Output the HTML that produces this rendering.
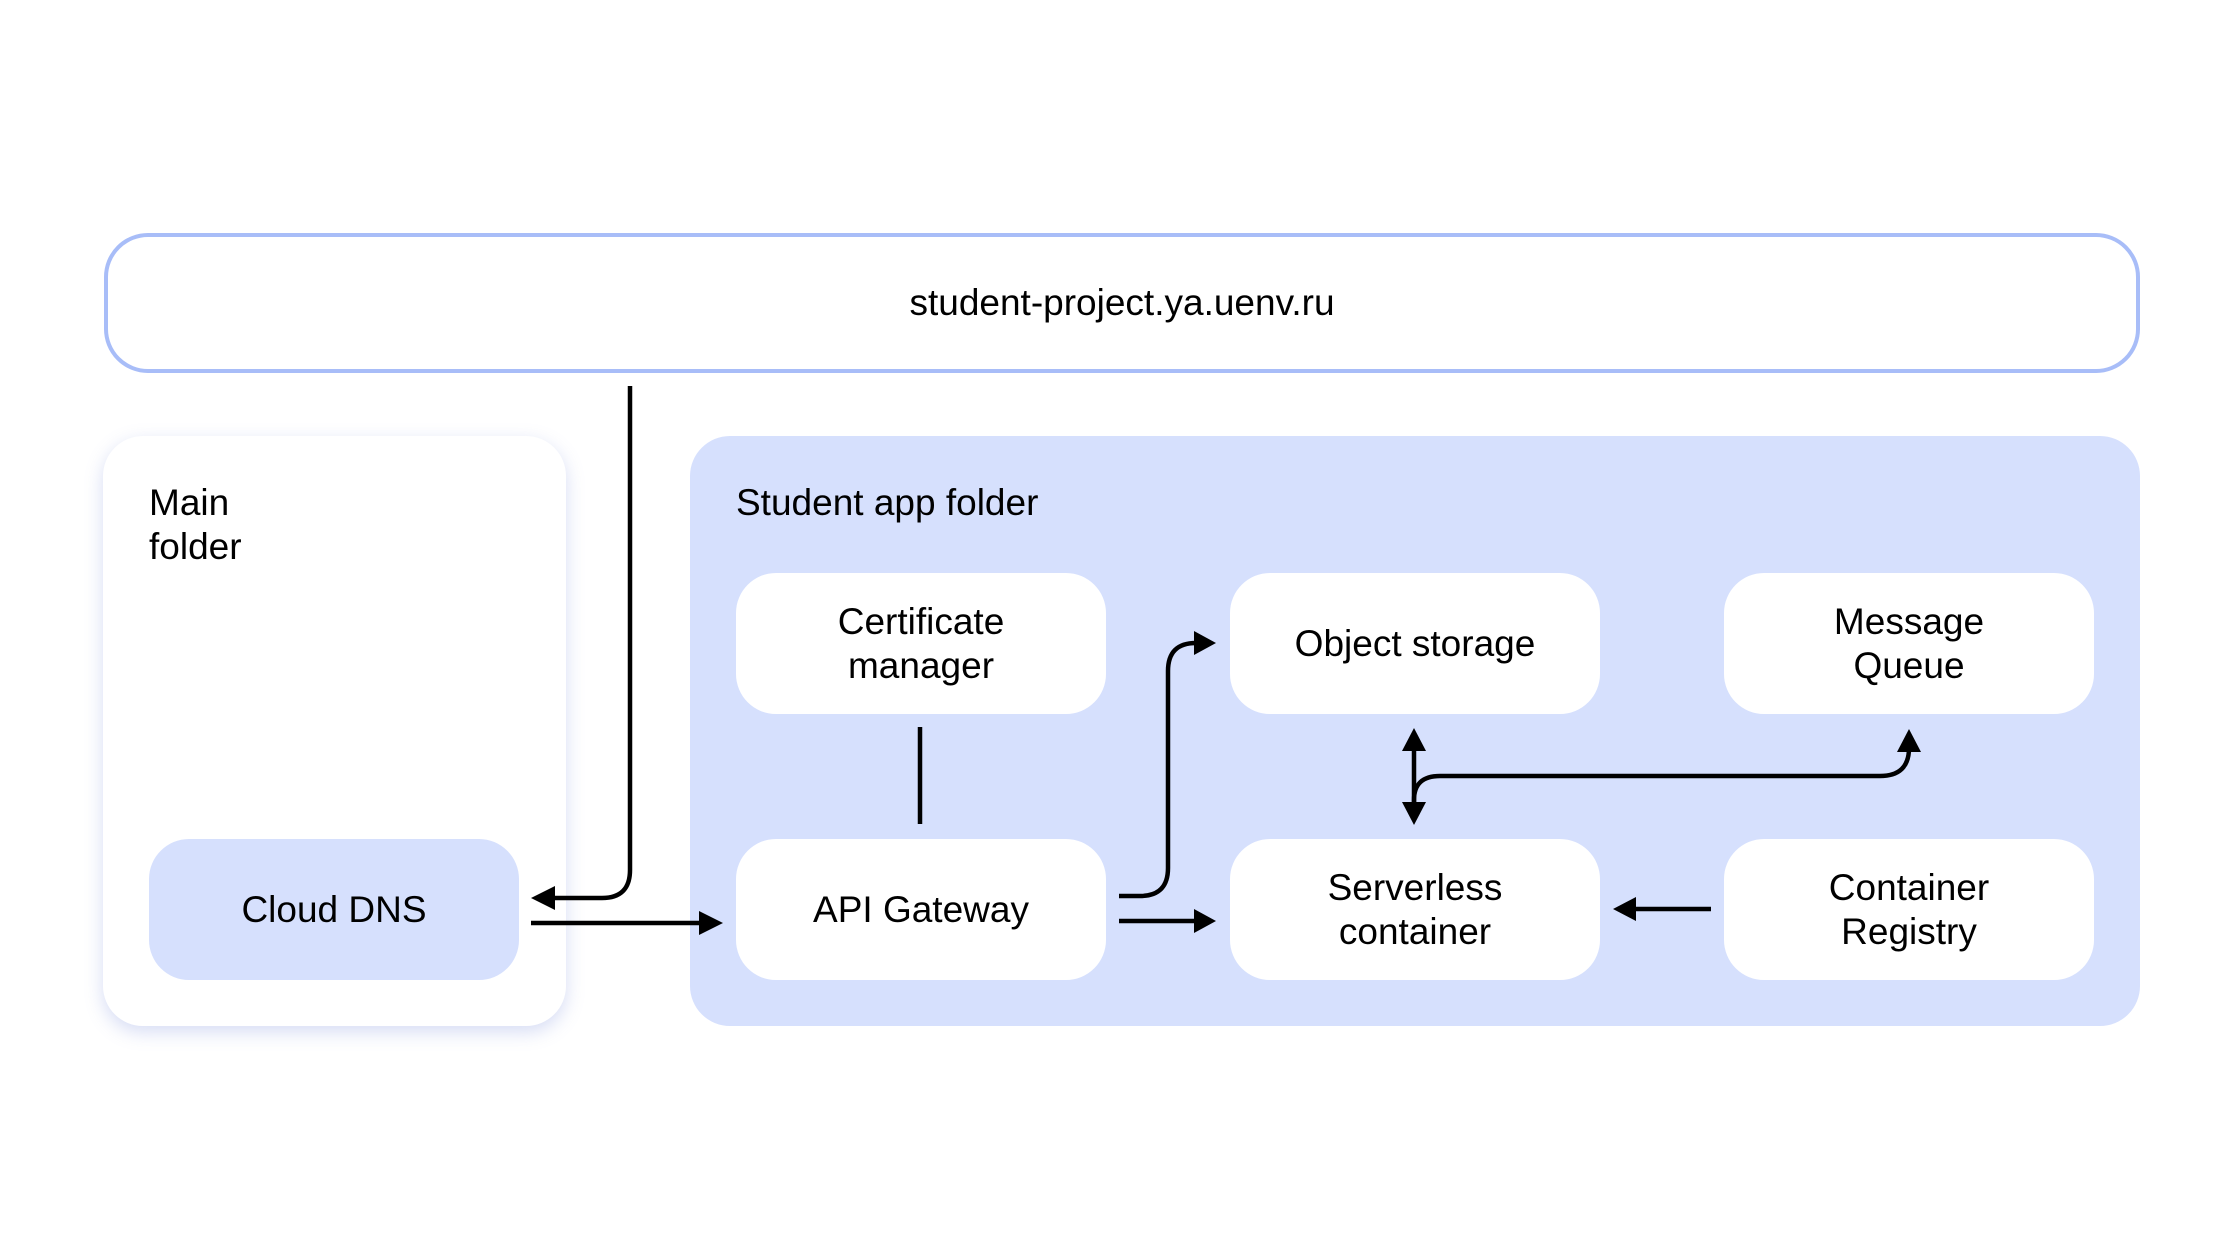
<!DOCTYPE html>
<html><head><meta charset="utf-8"><style>
body{margin:0;width:2240px;height:1260px;background:#fff;overflow:hidden;font-family:"Liberation Sans",sans-serif;position:relative;color:#000}
.a{position:absolute;box-sizing:border-box}
.n{position:absolute;box-sizing:border-box;background:#fff;border-radius:40px;display:flex;align-items:center;justify-content:center;text-align:center;font-size:37px;line-height:44px}
.t{position:absolute;font-size:37px;line-height:44px}
</style></head><body>
<div class="a" style="left:104px;top:233px;width:2036px;height:140px;border:4px solid #a8bdf8;border-radius:44px;display:flex;align-items:center;justify-content:center;font-size:37px">student-project.ya.uenv.ru</div>
<div class="a" style="left:103px;top:436px;width:463px;height:590px;background:#fff;border-radius:40px;box-shadow:0 6px 18px rgba(120,140,220,0.3)"></div>
<div class="a" style="left:690px;top:436px;width:1450px;height:590px;background:#d6e0fd;border-radius:40px"></div>
<div class="t" style="left:149px;top:481px">Main<br>folder</div>
<div class="t" style="left:736px;top:481px">Student app folder</div>
<div class="n" style="left:149px;top:839px;width:370px;height:141px;background:#d6e0fd">Cloud DNS</div>
<div class="n" style="left:736px;top:573px;width:370px;height:141px">Certificate<br>manager</div>
<div class="n" style="left:1230px;top:573px;width:370px;height:141px">Object storage</div>
<div class="n" style="left:1724px;top:573px;width:370px;height:141px">Message<br>Queue</div>
<div class="n" style="left:736px;top:839px;width:370px;height:141px">API Gateway</div>
<div class="n" style="left:1230px;top:839px;width:370px;height:141px">Serverless<br>container</div>
<div class="n" style="left:1724px;top:839px;width:370px;height:141px">Container<br>Registry</div>
<svg class="a" style="left:0;top:0" width="2240" height="1260">
<g fill="none" stroke="#000" stroke-width="4.5">
<path d="M630 386 V870 Q630 898 602 898 H548"/>
<path d="M531 923 H706"/>
<path d="M920 727 V824"/>
<path d="M1119 896 H1140 Q1168 896 1168 868 V671 Q1168 643 1196 643"/>
<path d="M1119 921 H1198"/>
<path d="M1711 909 H1630"/>
<path d="M1414 745 V808"/>
<path d="M1414 808 V800 Q1414 776 1440 776 H1880 Q1909 776 1909 748"/>
</g>
<g fill="#000">
<polygon points="531,898 555,886 555,910"/>
<polygon points="723,923 699,911 699,935"/>
<polygon points="1216,643 1194,631 1194,655"/>
<polygon points="1216,921 1194,909 1194,933"/>
<polygon points="1613,909 1636,897 1636,921"/>
<polygon points="1414,728 1402,751 1426,751"/>
<polygon points="1414,825 1402,802 1426,802"/>
<polygon points="1909,729 1897,752 1921,752"/>
</g>
</svg>
</body></html>
